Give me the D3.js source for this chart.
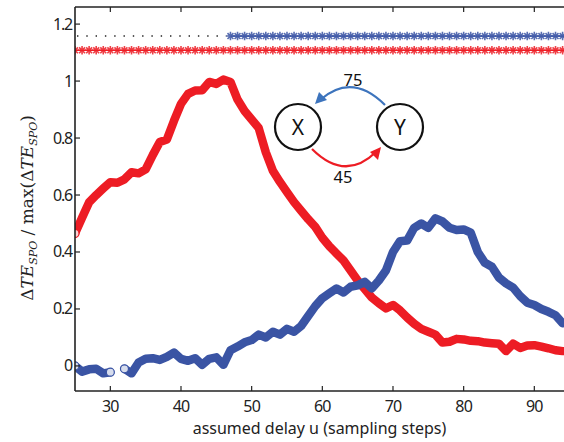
<!DOCTYPE html>
<html>
<head>
<meta charset="utf-8">
<script src="https://cdn.jsdelivr.net/npm/d3@7"></script>
<style>
  body { margin: 0; background: #fff; }
  text { font-family: "Noto Sans", "Open Sans", sans-serif; }
  text.math { font-family: "DejaVu Serif", "Liberation Serif", serif; }
</style>
</head>
<body>
<div id="chart"></div>
<script>
// delay values u = 25 .. 94
const delays = d3.range(25, 95);

// X -> Y direction (red)
const redValues = [
  0.465, 0.52, 0.575, 0.60, 0.623, 0.645, 0.643, 0.655, 0.68, 0.676,
  0.69, 0.74, 0.786, 0.795, 0.86, 0.92, 0.955, 0.967, 0.968, 0.997,
  0.99, 1.005, 0.997, 0.935, 0.895, 0.865, 0.835, 0.75, 0.685, 0.646,
  0.61, 0.575, 0.545, 0.515, 0.488, 0.45, 0.42, 0.395, 0.37, 0.335,
  0.30, 0.27, 0.24, 0.22, 0.202, 0.214, 0.195, 0.17, 0.148, 0.13,
  0.12, 0.11, 0.082, 0.085, 0.095, 0.093, 0.088, 0.087, 0.082, 0.08,
  0.078, 0.052, 0.078, 0.063, 0.072, 0.073, 0.068, 0.062, 0.055, 0.052
];

// Y -> X direction (blue), null = gap
const blueValues = [
  0, -0.02, -0.012, -0.01, -0.026, -0.022, null, -0.01, -0.026, 0.012,
  0.025, 0.027, 0.021, 0.032, 0.047, 0.025, 0.018, 0.027, 0.004, 0.025,
  0.03, 0.004, 0.055, 0.068, 0.083, 0.091, 0.11, 0.10, 0.12, 0.11,
  0.13, 0.12, 0.14, 0.175, 0.21, 0.238, 0.255, 0.272, 0.258, 0.278,
  0.283, 0.295, 0.272, 0.30, 0.335, 0.40, 0.438, 0.44, 0.485, 0.50,
  0.485, 0.518, 0.507, 0.485, 0.477, 0.479, 0.468, 0.40, 0.362, 0.348,
  0.31, 0.29, 0.275, 0.245, 0.222, 0.214, 0.20, 0.19, 0.178, 0.15
];

// open circle markers (start of segments)
const redCircles = [25];
const blueCircles = [25, 30, 32];

// significance rows
const redSigLevel = 1.108;
const blueSigLevel = 1.158;
const blueSigStart = 47;

const xTicks = [30, 40, 50, 60, 70, 80, 90];
const yTicks = [0, 0.2, 0.4, 0.6, 0.8, 1, 1.2];
const delayXY = "45";
const delayYX = "75";

const width = 564, height = 442;
const margin = { left: 75, right: 0, top: 7, bottom: 51 };

const svg = d3.select("#chart").append("svg")
    .attr("width", width)
    .attr("height", height);

const x = d3.scaleLinear().domain([25, 94.2]).range([margin.left, width - margin.right]);
const y = d3.scaleLinear().domain([-0.088, 1.26]).range([height - margin.bottom, margin.top]);

const red = "#ed1c24", blue = "#3a54a4", arrowBlue = "#3d74bd";

// clip to plot area
svg.append("clipPath").attr("id", "plot")
  .append("rect")
    .attr("x", margin.left).attr("y", margin.top)
    .attr("width", width - margin.left - margin.right)
    .attr("height", height - margin.top - margin.bottom);

const plot = svg.append("g").attr("clip-path", "url(#plot)");

const line = d3.line()
    .defined(d => d[1] !== null)
    .x(d => x(d[0]))
    .y(d => y(d[1]));

const redData = delays.map((u, i) => [u, redValues[i]]);
const blueData = delays.map((u, i) => [u, blueValues[i]]);

[[redData, red], [blueData, blue]].forEach(([data, color]) => {
  plot.append("path").datum(data)
      .attr("d", line)
      .attr("fill", "none")
      .attr("stroke", color)
      .attr("stroke-width", 8.5)
      .attr("stroke-linejoin", "round")
      .attr("stroke-linecap", "round");
});

// open circles
function circles(list, data, color) {
  plot.append("g").selectAll("circle")
    .data(list.map(u => data.find(d => d[0] === u)))
    .join("circle")
      .attr("cx", d => x(d[0]))
      .attr("cy", d => y(d[1]))
      .attr("r", 4)
      .attr("fill", "#fff")
      .attr("fill-opacity", 0.8)
      .attr("stroke", color)
      .attr("stroke-width", 1.2);
}
circles(redCircles, redData, red);
circles(blueCircles, blueData, blue);

// significance rows
const starPath = (() => {
  const r = 4.2, p = d3.path();
  for (let k = 0; k < 4; k++) {
    const a = k * Math.PI / 4;
    p.moveTo(-r * Math.cos(a), -r * Math.sin(a));
    p.lineTo(r * Math.cos(a), r * Math.sin(a));
  }
  return p.toString();
})();

function starRow(us, level, color) {
  plot.append("line")
    .attr("x1", x(us[0])).attr("x2", x(us[us.length - 1]) + 10)
    .attr("y1", y(level)).attr("y2", y(level))
    .attr("stroke", color).attr("stroke-width", 1.2);
  plot.append("g").selectAll("path")
    .data(us)
    .join("path")
      .attr("transform", u => `translate(${x(u)},${y(level)})`)
      .attr("d", starPath)
      .attr("stroke", color)
      .attr("stroke-opacity", 0.85)
      .attr("stroke-width", 1.6)
      .attr("fill", "none");
}

// black dotted part of the blue row (not significant)
plot.append("line")
    .attr("x1", x(25) + 2).attr("x2", x(blueSigStart) - 4)
    .attr("y1", y(blueSigLevel)).attr("y2", y(blueSigLevel))
    .attr("stroke", "#222")
    .attr("stroke-width", 1.4)
    .attr("stroke-dasharray", "1.4 7.9");

starRow(delays, redSigLevel, red);
starRow(delays.filter(u => u >= blueSigStart), blueSigLevel, blue);

// axes
const axisColor = "#222";
svg.append("line")
    .attr("x1", margin.left).attr("x2", width)
    .attr("y1", margin.top).attr("y2", margin.top)
    .attr("stroke", axisColor).attr("stroke-width", 1.6);
svg.append("line")
    .attr("x1", margin.left).attr("x2", width)
    .attr("y1", height - margin.bottom).attr("y2", height - margin.bottom)
    .attr("stroke", axisColor).attr("stroke-width", 1.6);
svg.append("line")
    .attr("x1", margin.left).attr("x2", margin.left)
    .attr("y1", margin.top).attr("y2", height - margin.bottom)
    .attr("stroke", axisColor).attr("stroke-width", 1.6);

const tickLen = 5;
const xt = svg.append("g");
xTicks.forEach(t => {
  xt.append("line")
    .attr("x1", x(t)).attr("x2", x(t))
    .attr("y1", height - margin.bottom).attr("y2", height - margin.bottom - tickLen)
    .attr("stroke", axisColor).attr("stroke-width", 1.2);
  xt.append("line")
    .attr("x1", x(t)).attr("x2", x(t))
    .attr("y1", margin.top).attr("y2", margin.top + tickLen)
    .attr("stroke", axisColor).attr("stroke-width", 1.2);
  xt.append("text")
    .attr("x", x(t)).attr("y", height - margin.bottom + 21)
    .attr("text-anchor", "middle")
    .attr("font-size", 16)
    .attr("letter-spacing", -0.8)
    .attr("fill", "#222")
    .text(t);
});

const yt = svg.append("g");
yTicks.forEach(t => {
  yt.append("line")
    .attr("x1", margin.left).attr("x2", margin.left + tickLen)
    .attr("y1", y(t)).attr("y2", y(t))
    .attr("stroke", axisColor).attr("stroke-width", 1.2);
  yt.append("text")
    .attr("x", margin.left - 3).attr("y", y(t) + 5.5)
    .attr("text-anchor", "end")
    .attr("font-size", 16)
    .attr("letter-spacing", -1.2)
    .attr("fill", "#222")
    .text(d3.format("~g")(t));
});

svg.append("text")
    .attr("x", (margin.left + width) / 2)
    .attr("y", height - 8)
    .attr("text-anchor", "middle")
    .attr("font-size", 16)
    .attr("fill", "#222")
    .text("assumed delay u (sampling steps)");

// y label with math styling
const ylab = svg.append("text")
    .attr("class", "math")
    .attr("transform", `translate(33,${(margin.top + height - margin.bottom) / 2 + 9}) rotate(-90)`)
    .attr("text-anchor", "middle")
    .attr("font-size", 17)
    .attr("fill", "#222");
ylab.append("tspan").text("Δ");
ylab.append("tspan").attr("font-style", "italic").text("TE");
ylab.append("tspan").attr("font-style", "italic").attr("font-size", 11).attr("dy", 4).text("SPO");
ylab.append("tspan").attr("dy", -4).text(" / max(Δ");
ylab.append("tspan").attr("font-style", "italic").text("TE");
ylab.append("tspan").attr("font-style", "italic").attr("font-size", 11).attr("dy", 4).text("SPO");
ylab.append("tspan").attr("dy", -4).text(")");

// inset diagram: X <-> Y
const diag = svg.append("g");
const nodes = [{ id: "X", cx: 298, cy: 127 }, { id: "Y", cx: 400, cy: 127 }];
diag.selectAll("circle")
  .data(nodes)
  .join("circle")
    .attr("cx", d => d.cx).attr("cy", d => d.cy)
    .attr("r", 23)
    .attr("fill", "#fff")
    .attr("stroke", "#111")
    .attr("stroke-width", 2.2);
diag.selectAll("text.node")
  .data(nodes)
  .join("text")
    .attr("class", "node")
    .attr("x", d => d.cx).attr("y", d => d.cy + 7.5)
    .attr("text-anchor", "middle")
    .attr("font-size", 21)
    .attr("fill", "#111")
    .text(d => d.id);

function arrow(pathD, color, head) {
  diag.append("path")
    .attr("d", pathD)
    .attr("fill", "none")
    .attr("stroke", color)
    .attr("stroke-width", 2.2);
  diag.append("path")
    .attr("d", head)
    .attr("fill", color);
}
arrow("M385,105 Q352,72 320,100", arrowBlue, "M315,104 L319,92 L327,100 Z");
arrow("M312,149 Q345,182 376,152", red, "M381,147 L378,160 L370,152 Z");

diag.append("text")
    .attr("x", 353).attr("y", 86)
    .attr("text-anchor", "middle")
    .attr("font-size", 16.5)
    .attr("fill", "#111")
    .text(delayYX);
diag.append("text")
    .attr("x", 343).attr("y", 183)
    .attr("text-anchor", "middle")
    .attr("font-size", 16.5)
    .attr("fill", "#111")
    .text(delayXY);
</script>
</body>
</html>
